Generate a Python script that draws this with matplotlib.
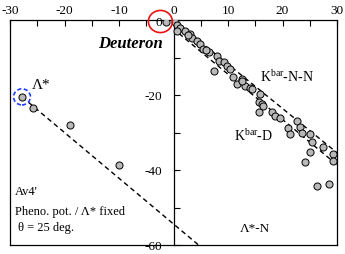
import numpy as np
import matplotlib
matplotlib.use("Agg")
import matplotlib.pyplot as plt
from matplotlib.patches import Ellipse

plt.rcParams['font.family'] = ['Liberation Serif', 'DejaVu Serif']
plt.rcParams['mathtext.fontset'] = 'custom'
plt.rcParams['mathtext.rm'] = 'Liberation Serif'

# Lambda* points (left side)
lam_x = [-27.8, -25.8, -19.0, -10.0]
lam_y = [-20.5, -23.5, -28.0, -38.7]

# Kbar points (right side)
kb_x = [-1.3, 0.3, 0.6, 1.2, 0.6, 2.2, 3.1, 3.4, 4.3, 4.9, 5.5, 6.5, 8.0, 8.3, 9.2, 9.8,
        10.4, 7.4, 11.0, 11.7, 12.6, 13.2, 14.1, 14.4, 15.9, 15.6, 16.2, 16.4, 15.6,
        18.1, 18.7, 19.6, 21.1, 21.4, 22.7, 23.2, 23.5, 25.0, 25.4, 24.1, 25.0, 27.5,
        29.3, 29.3, 26.4, 28.5, 2.6, 6.0, 12.5]
kb_y = [-0.5, -0.6, -1.3, -2.0, -2.8, -2.8, -3.7, -4.9, -5.5, -6.4, -7.6, -8.6, -9.5,
        -10.8, -11.3, -12.2, -13.1, -13.5, -15.3, -17.1, -15.7, -17.5, -18.0, -18.4,
        -19.7, -21.9, -22.4, -23.0, -24.6, -24.6, -25.5, -26.2, -28.8, -30.4, -27.0,
        -28.6, -30.2, -30.4, -32.6, -37.9, -35.3, -33.9, -35.8, -37.5, -44.3, -43.7,
        -4.0, -8.0, -16.2]

# dashed guide lines
lamN_x = [-27.8, 4.6]
lamN_y = [-20.5, -60.0]
knn_x = [0.0, 30.0]
knn_y = [0.0, -35.4]
kd_x = [1.0, 30.0]
kd_y = [-3.6, -38.6]

xticks_lab = [-30, -20, -10, 0, 10, 20, 30]
yticks_lab = [0, -20, -40, -60]

fig = plt.figure(figsize=(3.45, 2.55), dpi=100)
ax = fig.add_axes([10/345, 1-246/255, 327/345, 225/255])

dash = (3.5, 2.5)
ax.plot(lamN_x, lamN_y, color='k', lw=1, dashes=dash)
ax.plot(knn_x, knn_y, color='k', lw=1, dashes=dash)
ax.plot(kd_x, kd_y, color='k', lw=1, dashes=dash)

ax.scatter(kb_x, kb_y, s=26, facecolor='#b8b8b8', edgecolor='k', lw=0.7, zorder=3)
ax.scatter(lam_x, lam_y, s=26, facecolor='#b8b8b8', edgecolor='k', lw=0.7, zorder=3)

# highlight circles
ax.add_patch(Ellipse((lam_x[0], lam_y[0]), 3.1, 4.3, fill=False, ec='#1f3fff',
                     lw=1.2, ls=(0, (2.5, 1.5)), zorder=4))
ax.add_patch(Ellipse((-2.4, -0.4), 4.4, 5.9, fill=False, ec='#ee1111', lw=1.2,
                     zorder=5, clip_on=False))

ax.set_xlim(-30, 30)
ax.set_ylim(-60, 0)

ax.spines['left'].set_position(('data', 0))
for s in ax.spines.values():
    s.set_linewidth(0.9)
ax.plot([0, 0], [0, 1], transform=ax.transAxes, color='k', lw=0.9, clip_on=False)

ax.xaxis.tick_top()
ax.set_xticks(xticks_lab)
ax.set_xticks(np.arange(-25, 30, 10), minor=True)
ax.set_xticklabels([str(v) for v in xticks_lab])
ax.tick_params(axis='x', which='both', direction='in', length=4, width=0.8,
               labelsize=9.5, pad=3, top=True, bottom=False)

ax.set_yticks(yticks_lab)
ax.set_yticks([-10, -30, -50], minor=True)
ax.set_yticklabels([str(v) for v in yticks_lab])
ax.tick_params(axis='y', which='both', direction='in', length=4, width=0.8,
               labelsize=9.5, pad=8, left=True, right=False)

ax.text(-1.9, -6.1, 'Deuteron', fontsize=12, fontweight='bold', style='italic',
        ha='right', va='center')
ax.text(-26.0, -17.1, 'Λ*', fontsize=11, ha='left', va='center')
ax.text(15.9, -16.3, r'K$^{\mathrm{bar}}$-N-N', fontsize=10, ha='left', va='baseline')
ax.text(11.1, -32.0, r'K$^{\mathrm{bar}}$-D', fontsize=10, ha='left', va='baseline')
ax.text(12.2, -56.3, 'Λ*-N', fontsize=9.5, ha='left', va='baseline')
ax.text(-29.1, -46.4, "Av4'", fontsize=9, ha='left', va='baseline')
ax.text(-29.1, -51.7, 'Pheno. pot. / Λ* fixed', fontsize=9, ha='left', va='baseline')
ax.text(-28.5, -56.0, 'θ = 25 deg.', fontsize=9, ha='left', va='baseline')

fig.savefig('out.png', dpi=100)
